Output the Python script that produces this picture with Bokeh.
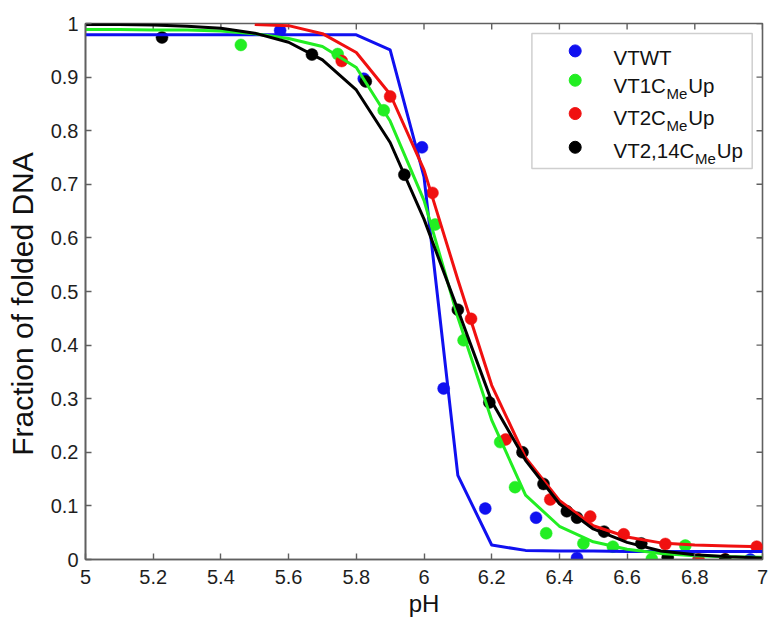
from bokeh.plotting import figure
from bokeh.models import (LinearAxis, FixedTicker, CustomJSTickFormatter, Range1d,
                          Label, BoxAnnotation)
from bokeh.embed import file_html
from bokeh.resources import INLINE

FONT = "Liberation Sans"

# ---------------- data ----------------
series_names = ["VTWT", "VT1CMeUp", "VT2CMeUp", "VT2,14CMeUp"]
series_colors = ["#1010f0", "#22ee22", "#f01010", "#000000"]

vtwt_ph = [5.575, 5.822, 5.994, 6.058, 6.181, 6.331, 6.452, 6.964]
vtwt_frac = [0.987, 0.897, 0.769, 0.319, 0.095, 0.078, 0.003, 0.0]

vt1_ph = [5.459, 5.745, 5.881, 6.033, 6.117, 6.225, 6.269, 6.361, 6.471, 6.558, 6.673, 6.772]
vt1_frac = [0.960, 0.943, 0.838, 0.625, 0.409, 0.219, 0.135, 0.049, 0.030, 0.024, 0.001, 0.026]

vt2_ph = [5.757, 5.900, 6.025, 6.139, 6.241, 6.373, 6.491, 6.590, 6.713, 6.811, 6.890, 6.983]
vt2_frac = [0.930, 0.864, 0.684, 0.449, 0.224, 0.112, 0.080, 0.047, 0.029, 0.0, 0.0, 0.024]

vt214_ph = [5.226, 5.669, 5.828, 5.942, 6.100, 6.193, 6.291, 6.353, 6.422, 6.452, 6.532, 6.642, 6.720, 6.890]
vt214_frac = [0.974, 0.942, 0.892, 0.718, 0.466, 0.293, 0.200, 0.141, 0.090, 0.078, 0.052, 0.030, 0.004, 0.0]

# fitted curves
fit_ph = [5.0, 5.1, 5.2, 5.3, 5.4, 5.5, 5.6, 5.7, 5.8, 5.9, 6.0,
          6.1, 6.2, 6.3, 6.4, 6.5, 6.6, 6.7, 6.8, 6.9, 7.0]
vtwt_fit = [0.979, 0.979, 0.979, 0.979, 0.979, 0.979, 0.979, 0.979, 0.979, 0.951, 0.714,
            0.157, 0.027, 0.017, 0.016, 0.016, 0.015, 0.015, 0.015, 0.015, 0.015]
vt1_fit = [0.989, 0.989, 0.988, 0.988, 0.986, 0.981, 0.972, 0.957, 0.918, 0.818, 0.670,
           0.452, 0.260, 0.120, 0.062, 0.033, 0.019, 0.011, 0.007, 0.005, 0.004]
vt2_fit_ph = [5.5, 5.6, 5.7, 5.8, 5.9, 6.0, 6.1, 6.2, 6.3, 6.4, 6.5, 6.6, 6.7, 6.8, 6.9, 7.0]
vt2_fit = [0.998, 0.996, 0.981, 0.946, 0.868, 0.727, 0.522, 0.325, 0.190, 0.110, 0.063,
           0.042, 0.031, 0.027, 0.025, 0.024]
vt214_fit = [0.998, 0.998, 0.997, 0.995, 0.991, 0.982, 0.965, 0.932, 0.876, 0.778, 0.635,
             0.466, 0.295, 0.185, 0.104, 0.057, 0.032, 0.016, 0.009, 0.005, 0.003]

x_ticks = [5.0, 5.2, 5.4, 5.6, 5.8, 6.0, 6.2, 6.4, 6.6, 6.8, 7.0]
y_ticks = [0.0, 0.1, 0.2, 0.3, 0.4, 0.5, 0.6, 0.7, 0.8, 0.9, 1.0]

x_title = "pH"
y_title = "Fraction of folded DNA"

# ---------------- figure ----------------
p = figure(width=769, height=621, x_range=Range1d(5, 7), y_range=Range1d(0, 1),
           output_backend="svg", toolbar_location=None,
           min_border_left=85, min_border_right=7, min_border_top=23, min_border_bottom=62,
           x_axis_location=None, y_axis_location=None)
p.xgrid.visible = False
p.ygrid.visible = False
AX_COLOR = "#606060"
p.outline_line_color = AX_COLOR
p.outline_line_width = 1.6
p.background_fill_color = "white"
p.border_fill_color = "white"

fmt = CustomJSTickFormatter(code="return tick.toFixed(1).replace(/\\.0$/, '');")


def make_axis(ticks):
    ax = LinearAxis(ticker=FixedTicker(ticks=ticks, minor_ticks=[]), formatter=fmt)
    ax.axis_line_color = AX_COLOR
    ax.axis_line_width = 1.6
    ax.major_tick_line_color = AX_COLOR
    ax.major_tick_line_width = 1.4
    ax.major_tick_in = 6
    ax.major_tick_out = 0
    ax.minor_tick_line_color = None
    ax.major_label_text_font = FONT
    ax.major_label_text_color = "#1e1e1e"
    ax.major_label_text_font_size = "20px"
    ax.axis_label_text_font = FONT
    ax.axis_label_text_font_style = "normal"
    ax.axis_label_text_color = "#111111"
    return ax


xb = make_axis(x_ticks)
xb.major_label_standoff = 10
xb.axis_label = x_title
xb.axis_label_text_font_size = "24px"
xb.axis_label_standoff = 3
p.add_layout(xb, "below")

yl = make_axis(y_ticks)
yl.major_label_standoff = 7
# trailing no-break spaces nudge the centred title slightly lower, as in the original
yl.axis_label = y_title + "\u00a0\u00a0\u00a0"
yl.axis_label_text_font_size = "30px"
yl.axis_label_standoff = 9
p.add_layout(yl, "left")


def px_x(px):
    return 5 + (px - 85.3) / 338.5


def px_y(py):
    return (559.0 - py) / 535.7


# inward ticks on the top and right sides of the box
tick_dx = 6 / 338.5
tick_dy = 6 / 535.7
p.segment(x0=x_ticks, y0=[1.0] * len(x_ticks), x1=x_ticks, y1=[1.0 - tick_dy] * len(x_ticks),
          line_color=AX_COLOR, line_width=1.4)
p.segment(x0=[7.0] * len(y_ticks), y0=y_ticks, x1=[7.0 - tick_dx] * len(y_ticks), y1=y_ticks,
          line_color=AX_COLOR, line_width=1.4)

# ---------------- points then fitted lines ----------------
pts = [(vtwt_ph, vtwt_frac), (vt1_ph, vt1_frac), (vt2_ph, vt2_frac), (vt214_ph, vt214_frac)]
fits = [(fit_ph, vtwt_fit), (fit_ph, vt1_fit), (vt2_fit_ph, vt2_fit), (fit_ph, vt214_fit)]

for (xs, ys), c in zip(pts, series_colors):
    p.scatter(xs, ys, size=12, marker="circle", fill_color=c, line_color=c, line_width=0.5)

for (xs, ys), c in zip(fits, series_colors):
    p.line(xs, ys, line_width=3, line_color=c, line_join="round")

# ---------------- legend (drawn by hand for subscripts) ----------------
p.add_layout(BoxAnnotation(left=px_x(531.7), right=px_x(752.0), top=px_y(33.3), bottom=px_y(168.3),
                           fill_color="white", fill_alpha=1.0, line_color=AX_COLOR,
                           line_width=1.5, level="underlay"))

legend_main = ["VTWT", "VT1C", "VT2C", "VT2,14C"]
legend_sub = ["", "Me", "Me", "Me"]
legend_tail = ["", "Up", "Up", "Up"]
marker_py = [50.7, 80.0, 113.3, 147.0]
base_py = [57.0, 85.6, 117.0, 150.6]

W = {"V": 0.667, "T": 0.611, "W": 0.944, "1": 0.556, "2": 0.556, "4": 0.556, ",": 0.278,
     "C": 0.722, "M": 0.833, "e": 0.556, "U": 0.722, "p": 0.556}
F_MAIN = 20.5
F_SUB = 15
x_text_px = 613.3

for i in range(4):
    c = series_colors[i]
    p.scatter([px_x(575.0)], [px_y(marker_py[i])], size=12, marker="circle",
              fill_color=c, line_color=c)
    p.add_layout(Label(x=px_x(x_text_px), y=px_y(base_py[i]), text=legend_main[i],
                       text_font=FONT, text_font_size=f"{F_MAIN}px", text_color="#111111",
                       text_baseline="alphabetic", text_align="left"))
    if legend_sub[i]:
        xm = x_text_px + sum(W[ch] for ch in legend_main[i]) * F_MAIN + 0.5
        p.add_layout(Label(x=px_x(xm), y=px_y(base_py[i] + 8), text=legend_sub[i],
                           text_font=FONT, text_font_size=f"{F_SUB}px", text_color="#111111",
                           text_baseline="alphabetic", text_align="left"))
        xu = xm + sum(W[ch] for ch in legend_sub[i]) * F_SUB + 1
        p.add_layout(Label(x=px_x(xu), y=px_y(base_py[i]), text=legend_tail[i],
                           text_font=FONT, text_font_size=f"{F_MAIN}px", text_color="#111111",
                           text_baseline="alphabetic", text_align="left"))

open("out.html", "w").write(file_html(p, INLINE))
